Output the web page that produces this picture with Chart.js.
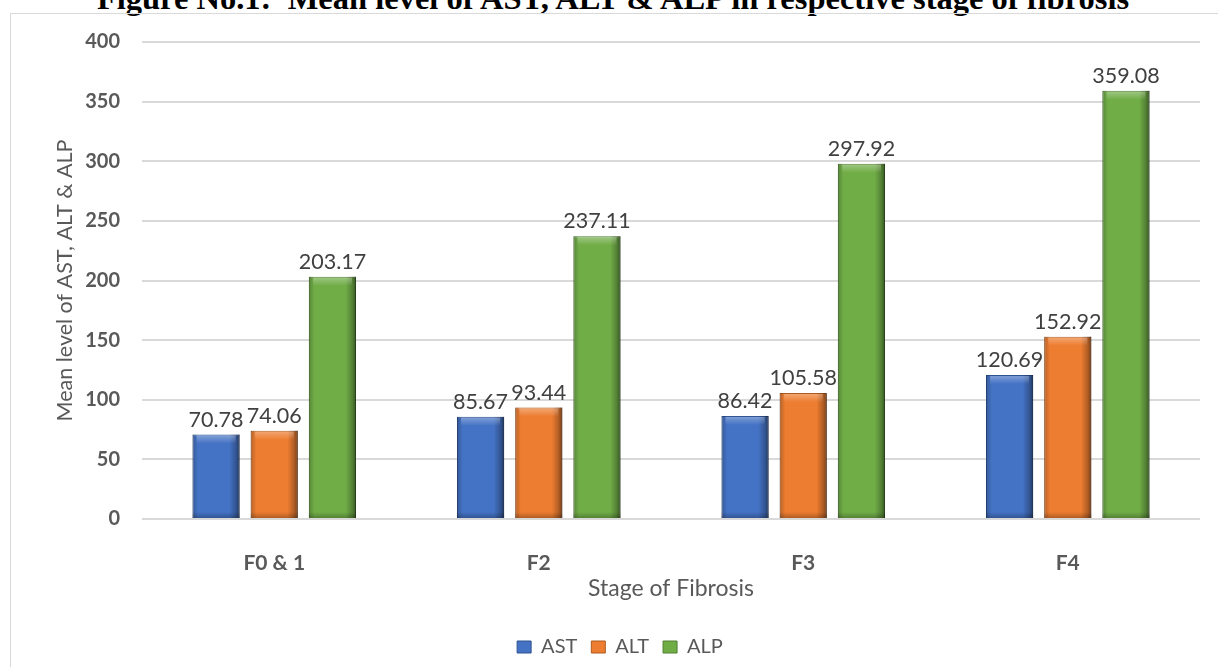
<!DOCTYPE html>
<html>
<head>
<meta charset="utf-8">
<script src="https://cdn.jsdelivr.net/npm/chart.js@4"></script>
<style>
  html, body { margin: 0; padding: 0; background: #fff; overflow: hidden; }
  #title {
    position: absolute; left: 0; width: 1226px; top: -18px;
    text-align: center; font: bold 32.5px "Liberation Serif", serif; color: #000;
    white-space: nowrap; line-height: 1;
  }
  #frame {
    position: absolute; left: 10px; top: 13px; width: 1230px; height: 680px;
    border: 1px solid #d9d9d9;
  }
  #wrap { position: absolute; left: 0; top: 0; width: 1218px; height: 667px; }
</style>
</head>
<body>
<div id="title">Figure No.1: &nbsp;Mean level of AST, ALT &amp; ALP in respective stage of fibrosis</div>
<div id="frame"></div>
<div id="wrap"><canvas id="chart"></canvas></div>
<script>
const stages = ["F0 & 1", "F2", "F3", "F4"];
const astValues = [70.78, 85.67, 86.42, 120.69];
const altValues = [74.06, 93.44, 105.58, 152.92];
const alpValues = [203.17, 237.11, 297.92, 359.08];
const yTicks = [0, 50, 100, 150, 200, 250, 300, 350, 400];

// shading + value labels above each bar
const barLabels = {
    id: "barLabels",
    afterDatasetsDraw(chart) {
        const ctx = chart.ctx;
        ctx.save();
        chart.data.datasets.forEach((ds, di) => {
            chart.getDatasetMeta(di).data.forEach((bar, i) => {
                const left = bar.x - bar.width / 2, w = bar.width, top = bar.y, h = bar.base - bar.y;
                const g = ctx.createLinearGradient(left, 0, left + w, 0);
                g.addColorStop(0, "rgba(0,0,0,0.22)");
                g.addColorStop(0.12, "rgba(0,0,0,0)");
                g.addColorStop(0.78, "rgba(0,0,0,0)");
                g.addColorStop(0.92, "rgba(0,0,0,0.25)");
                g.addColorStop(1, "rgba(0,0,0,0.5)");
                ctx.fillStyle = g;
                ctx.fillRect(left, top, w, h);
                const t = ctx.createLinearGradient(0, top, 0, top + 9);
                t.addColorStop(0, "rgba(255,255,255,0.35)");
                t.addColorStop(1, "rgba(255,255,255,0)");
                ctx.fillStyle = t;
                ctx.fillRect(left + 4, top + 1, w - 8, 9);
                const b = ctx.createLinearGradient(0, bar.base - 6, 0, bar.base);
                b.addColorStop(0, "rgba(0,0,0,0)");
                b.addColorStop(1, "rgba(0,0,0,0.25)");
                ctx.fillStyle = b;
                ctx.fillRect(left, bar.base - 6, w, 6);

                ctx.fillStyle = "#404040";
                ctx.font = "21.5px Lato";
                ctx.textAlign = "center";
                ctx.textBaseline = "bottom";
                ctx.fillText(ds.data[i].toFixed(2), bar.x, bar.y - 4);
            });
        });
        ctx.restore();
    }
};

new Chart(document.getElementById("chart"), {
    type: "bar",
    data: {
        labels: stages,
        datasets: [
            { label: "AST", data: astValues, backgroundColor: "#4472C4", borderColor: "#2F528F", borderWidth: 1 },
            { label: "ALT", data: altValues, backgroundColor: "#ED7D31", borderColor: "#AE5A21", borderWidth: 1 },
            { label: "ALP", data: alpValues, backgroundColor: "#70AD47", borderColor: "#507E32", borderWidth: 1 }
        ]
    },
    options: {
        responsive: true,
        maintainAspectRatio: false,
        animation: false,
        categoryPercentage: 0.66,
        barPercentage: 0.81,
        layout: { padding: { left: 40, right: 18, top: 42, bottom: 0 } },
        plugins: {
            title: { display: false },
            tooltip: { enabled: false },
            legend: {
                position: "bottom",
                labels: {
                    boxWidth: 14, boxHeight: 12, padding: 14,
                    color: "#595959", font: { family: "Lato", size: 20 }
                }
            }
        },
        scales: {
            x: {
                grid: { display: false },
                border: { display: false },
                ticks: { color: "#595959", padding: 24, font: { family: "Lato", size: 21, weight: "bold" } },
                title: {
                    display: true, text: "Stage of Fibrosis", color: "#595959",
                    font: { family: "Lato", size: 23 }, padding: { top: 0, bottom: 21 }
                },
                afterFit(scale) { scale.height = 104; }
            },
            y: {
                min: 0, max: 400,
                afterBuildTicks(scale) { scale.ticks = yTicks.map(v => ({ value: v })); },
                grid: { color: "#d9d9d9", lineWidth: 2, drawTicks: false },
                border: { display: false },
                ticks: { color: "#595959", padding: 22, font: { family: "Lato", size: 20, weight: "bold" } },
                title: {
                    display: true, text: "Mean level of AST, ALT & ALP", color: "#595959",
                    font: { family: "Lato", size: 21.5 }, padding: { top: 12, bottom: 0 }
                },
                afterFit(scale) { scale.width = 102; }
            }
        }
    },
    plugins: [barLabels]
});
</script>
</body>
</html>
